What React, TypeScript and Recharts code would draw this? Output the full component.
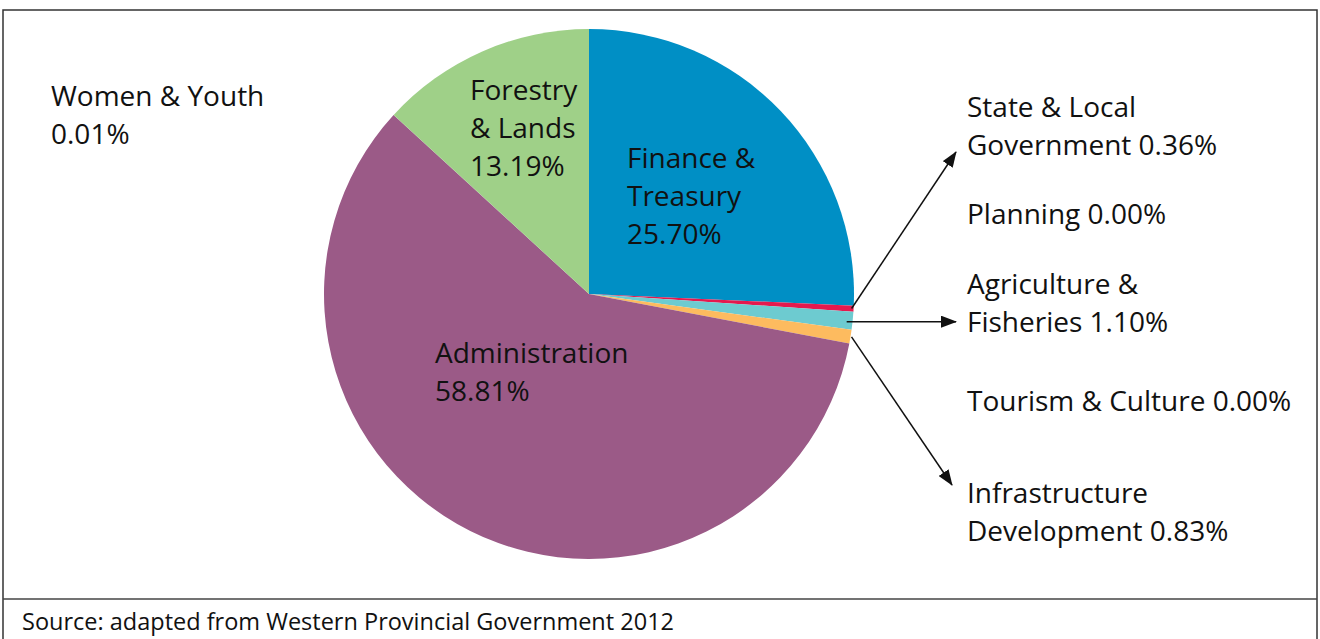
import { PieChart, Pie, Cell } from 'recharts'

// shares of provincial budget, clockwise from 12 o'clock
const departments = [
  'Finance & Treasury',
  'State & Local Government',
  'Planning',
  'Agriculture & Fisheries',
  'Tourism & Culture',
  'Infrastructure Development',
  'Administration',
  'Women & Youth',
  'Forestry & Lands',
]
const shares = [25.7, 0.36, 0.0, 1.1, 0.0, 0.83, 58.81, 0.01, 13.19]
const sliceColors = ['#008fc5', '#e5194e', '#e5194e', '#6dcbd0', '#6dcbd0', '#fdbb5f', '#9b5a87', '#9b5a87', '#9fd088']

const data = departments.map((name, i) => ({ name, value: shares[i] }))

const W = 1320
const H = 639
const CX = 589
const CY = 294
const R = 265
const FONT = '"Open Sans", sans-serif'
const FS = 28
const LH = 38

// label lines, positioned by first baseline
const labels: { x: number; y: number; lines: string[] }[] = [
  { x: 51, y: 106, lines: ['Women & Youth', '0.01%'] },
  { x: 470, y: 100, lines: ['Forestry', '& Lands', '13.19%'] },
  { x: 627, y: 168, lines: ['Finance &', 'Treasury', '25.70%'] },
  { x: 435, y: 363, lines: ['Administration', '58.81%'] },
  { x: 967, y: 117, lines: ['State & Local', 'Government 0.36%'] },
  { x: 967, y: 224, lines: ['Planning 0.00%'] },
  { x: 967, y: 294, lines: ['Agriculture &', 'Fisheries 1.10%'] },
  { x: 967, y: 411, lines: ['Tourism & Culture 0.00%'] },
  { x: 967, y: 503, lines: ['Infrastructure', 'Development 0.83%'] },
]

// arrows: slice index -> arrow tip (tipY null = horizontal)
const arrows: { slice: number; tipX: number; tipY: number | null; r: number }[] = [
  { slice: 1, tipX: 956, tipY: 152, r: 263 },
  { slice: 3, tipX: 956, tipY: null, r: 259 },
  { slice: 5, tipX: 952, tipY: 485, r: 266 },
]

function midAngle(idx: number) {
  const total = shares.reduce((a, b) => a + b, 0)
  let acc = 0
  for (let i = 0; i < idx; i++) acc += shares[i]
  const mid = acc + shares[idx] / 2
  return (mid / total) * 2 * Math.PI
}

function Overlay() {
  return (
    <svg width={W} height={H} style={{ position: 'absolute', left: 0, top: 0 }}>
      <defs>
        <marker id="head" markerWidth="16" markerHeight="12" refX="15" refY="6" orient="auto" markerUnits="userSpaceOnUse">
          <path d="M0,0 L16,6 L0,12 z" fill="#111" />
        </marker>
      </defs>
      <rect x={3} y={10} width={1314} height={640} fill="none" stroke="#333" strokeWidth={1.5} />
      <line x1={3} y1={599} x2={1317} y2={599} stroke="#444" strokeWidth={1.5} />
      {arrows.map((a) => {
        const ang = midAngle(a.slice)
        const x1 = CX + a.r * Math.sin(ang)
        const y1 = CY - a.r * Math.cos(ang) + (a.tipY === null ? 1.5 : 0)
        return (
          <line
            key={a.slice}
            x1={x1}
            y1={y1}
            x2={a.tipX}
            y2={a.tipY === null ? y1 : a.tipY}
            stroke="#111"
            strokeWidth={1.5}
            markerEnd="url(#head)"
          />
        )
      })}
      {labels.map((l, i) => (
        <text key={i} x={l.x} y={l.y} fontFamily={FONT} fontSize={FS} fill="#111">
          {l.lines.map((s, j) => (
            <tspan key={j} x={l.x} dy={j === 0 ? 0 : LH}>
              {s}
            </tspan>
          ))}
        </text>
      ))}
      <text x={22} y={630} fontFamily={FONT} fontSize={23.5} fill="#111">
        Source: adapted from Western Provincial Government 2012
      </text>
    </svg>
  )
}

export default function App() {
  return (
    <div style={{ position: 'absolute', left: 0, top: 0, width: W, height: H, background: '#fff', overflow: 'hidden' }}>
      <PieChart width={W} height={H} margin={{ top: 0, right: 0, bottom: 0, left: 0 }}>
        <Pie
          data={data}
          dataKey="value"
          cx={CX}
          cy={CY}
          outerRadius={R}
          startAngle={90}
          endAngle={-270}
          stroke="none"
          isAnimationActive={false}
        >
          {data.map((d, i) => (
            <Cell key={d.name} fill={sliceColors[i]} />
          ))}
        </Pie>
      </PieChart>
      <Overlay />
    </div>
  )
}
